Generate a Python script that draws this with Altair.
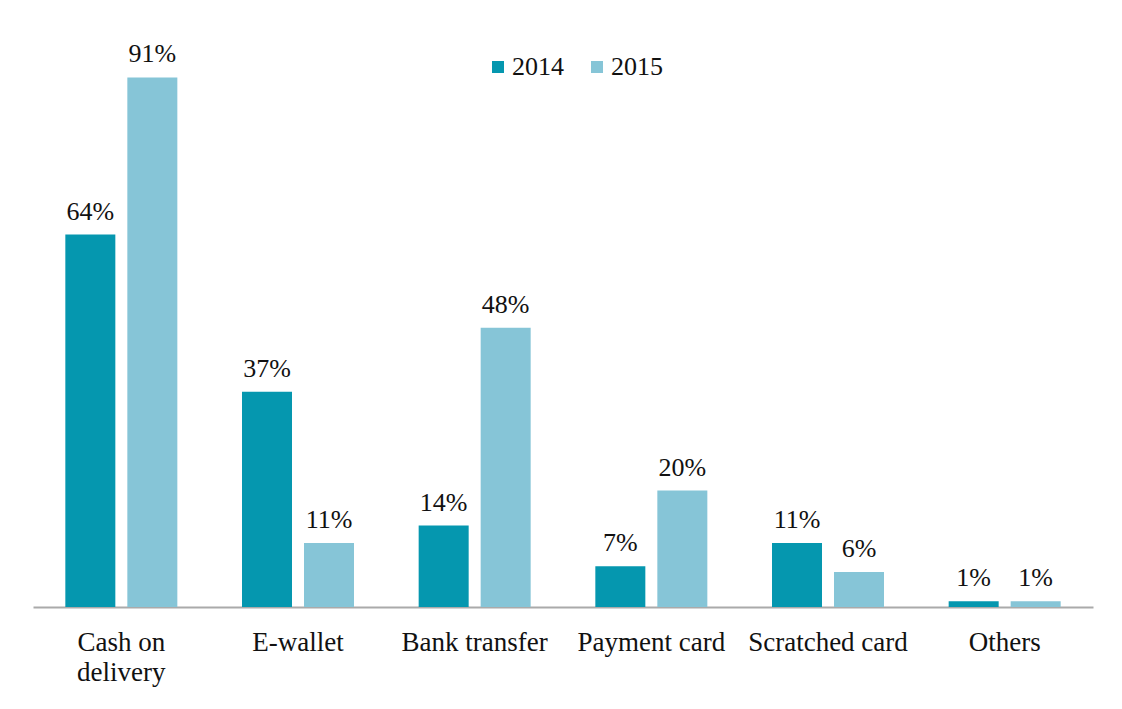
import altair as alt
import pandas as pd

categories = ["Cash on delivery", "E-wallet", "Bank transfer", "Payment card", "Scratched card", "Others"]
years = ["2014", "2015"]
values_2014 = [64, 37, 14, 7, 11, 1]
values_2015 = [91, 11, 48, 20, 6, 1]
colors = ["#0597AF", "#86C5D7"]

rows = []
for c, a, b in zip(categories, values_2014, values_2015):
    rows.append({"method": c, "year": "2014", "value": a, "label": f"{a}%"})
    rows.append({"method": c, "year": "2015", "value": b, "label": f"{b}%"})
df = pd.DataFrame(rows)

FONT = "Liberation Serif"

x = alt.X(
    "method:N",
    sort=categories,
    scale=alt.Scale(paddingInner=0.366, paddingOuter=0.183),
    axis=alt.Axis(
        title=None,
        labelAngle=0,
        ticks=False,
        domainColor="#aaaaaa",
        domainWidth=2,
        labelFont=FONT,
        labelFontSize=27,
        labelColor="#111111",
        labelPadding=22,
        labelLineHeight=30,
        labelLimit=400,
        labelOverlap=False,
        labelExpr="datum.label == 'Cash on delivery' ? ['Cash on', 'delivery'] : datum.label",
    ),
)
xoff = alt.XOffset("year:N", sort=years, scale=alt.Scale(paddingInner=0.1935, paddingOuter=0))
y = alt.Y("value:Q", scale=alt.Scale(domain=[0, 100]), axis=None)

base = alt.Chart(df).encode(x=x, xOffset=xoff, y=y)

bars = base.mark_bar().encode(
    color=alt.Color(
        "year:N",
        sort=years,
        scale=alt.Scale(domain=years, range=colors),
        legend=alt.Legend(
            title=None,
            orient="none",
            direction="horizontal",
            legendX=452,
            legendY=29,
            labelFont=FONT,
            labelFontSize=26,
            labelColor="#111111",
            symbolType="square",
            symbolSize=144,
            symbolStrokeWidth=0,
            symbolOpacity=1,
            labelOffset=1,
            columnPadding=20,
            padding=0,
        ),
    )
)

texts = base.mark_text(
    dy=-15, baseline="alphabetic", font=FONT, fontSize=26, color="#111111"
).encode(text="label:N")

chart = (
    alt.layer(bars, texts)
    .properties(
        width=1060,
        height=582,
        autosize=alt.AutoSizeParams(type="none"),
        padding={"left": 25, "top": 17, "right": 21, "bottom": 94},
        background="white",
    )
    .configure_view(stroke=None)
)

chart.save("out.html", embed_options={"renderer": "svg", "actions": False})
